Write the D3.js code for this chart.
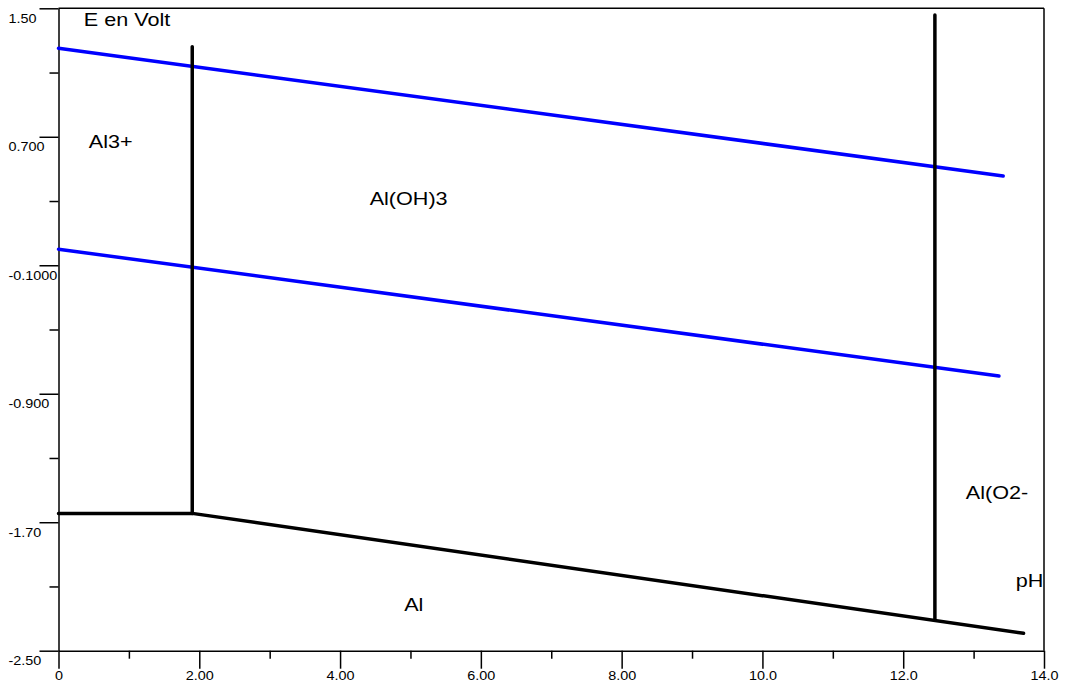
<!DOCTYPE html>
<html>
<head>
<meta charset="utf-8">
<script src="https://cdn.jsdelivr.net/npm/d3@7"></script>
<style>
  body { margin: 0; background: #fff; }
  text { font-family: "Liberation Sans", Arial, sans-serif; }
</style>
</head>
<body>
<div id="chart"></div>
<script>
// axis ticks
var xTicks = [0, 2, 4, 6, 8, 10, 12, 14];
var xTickLabels = ["0", "2.00", "4.00", "6.00", "8.00", "10.0", "12.0", "14.0"];
var xMinor = [1, 3, 5, 7, 9, 11, 13];
var yTicks = [1.5, 0.7, -0.1, -0.9, -1.7, -2.5];
var yTickLabels = ["1.50", "0.700", "-0.1000", "-0.900", "-1.70", "-2.50"];
var yMinor = [1.1, 0.3, -0.5, -1.3, -2.1];

// water stability lines (pH, E)
var waterUpper = [[0, 1.251], [13.42, 0.456]];
var waterLower = [[0, 0.0], [13.36, -0.79]];

// aluminium boundaries (pH, E)
var alBoundary = [[0, -1.645], [1.9, -1.645], [13.71, -2.392]];
var alVertical1 = [[1.9, -1.645], [1.9, 1.261]];
var alVertical2 = [[12.45, -2.303], [12.45, 1.458]];

// region labels
var labelText = ["E en Volt", "Al3+", "Al(OH)3", "Al(O2-", "pH", "Al"];
var labelPH   = [0.36, 0.43, 4.42, 12.89, 13.60, 4.91];
var labelE    = [1.39, 0.630, 0.275, -1.555, -2.103, -2.253];

function main() {
  var width = 1065, height = 688;
  var stretch = 1.2; // text in the original is drawn a bit wide
  var svg = d3.select("#chart").append("svg")
      .attr("width", width)
      .attr("height", height);

  var x = d3.scaleLinear().domain([0, 14]).range([58.5, 1044]);
  var y = d3.scaleLinear().domain([1.5, -2.5]).range([8.3, 650.7]);

  // frame top + right
  svg.append("line")
      .attr("x1", x(0)).attr("x2", x(14))
      .attr("y1", y(1.5)).attr("y2", y(1.5))
      .attr("stroke", "#000").attr("stroke-width", 1.5);
  svg.append("line")
      .attr("x1", x(14)).attr("x2", x(14))
      .attr("y1", y(1.5)).attr("y2", y(-2.5))
      .attr("stroke", "#000").attr("stroke-width", 1.5);

  // x axis
  var xAxis = svg.append("g")
      .attr("transform", "translate(0," + y(-2.5) + ")");
  xAxis.append("g")
      .call(d3.axisBottom(x).tickValues(xMinor).tickSize(8).tickFormat(""))
      .call(g => g.select(".domain").remove());
  xAxis.append("g")
      .call(d3.axisBottom(x).tickValues(xTicks).tickSize(18).tickSizeOuter(0)
          .tickFormat((d, i) => xTickLabels[i]));
  xAxis.selectAll("path, line").attr("stroke", "#000").attr("stroke-width", 1.5);
  xAxis.selectAll("text")
      .attr("font-size", "12px")
      .attr("font-family", "Liberation Sans, Arial, sans-serif")
      .attr("fill", "#000")
      .attr("transform", "scale(" + stretch + ",1)");

  // y axis
  var yAxis = svg.append("g")
      .attr("transform", "translate(" + x(0) + ",0)");
  yAxis.append("g")
      .call(d3.axisLeft(y).tickValues(yMinor).tickSize(9).tickFormat(""))
      .call(g => g.select(".domain").remove());
  yAxis.append("g")
      .call(d3.axisLeft(y).tickValues(yTicks).tickSize(19).tickSizeOuter(0)
          .tickFormat((d, i) => yTickLabels[i]));
  yAxis.selectAll("path, line").attr("stroke", "#000").attr("stroke-width", 1.5);
  yAxis.selectAll("text")
      .attr("font-size", "12px")
      .attr("font-family", "Liberation Sans, Arial, sans-serif")
      .attr("fill", "#000")
      .attr("text-anchor", "start")
      .attr("x", 0)
      .attr("dy", "14")
      .attr("transform", "translate(" + (8.5 - x(0)) + ",0) scale(" + stretch + ",1)");

  var line = d3.line().x(d => x(d[0])).y(d => y(d[1]));

  // water lines
  [waterUpper, waterLower].forEach(function(d) {
    svg.append("path")
        .attr("d", line(d))
        .attr("fill", "none")
        .attr("stroke", "#0000ff")
        .attr("stroke-width", 3.5)
        .attr("stroke-linecap", "round");
  });

  // Al boundaries
  [alBoundary, alVertical1, alVertical2].forEach(function(d) {
    svg.append("path")
        .attr("d", line(d))
        .attr("fill", "none")
        .attr("stroke", "#000")
        .attr("stroke-width", 3.5)
        .attr("stroke-linecap", "round")
        .attr("stroke-linejoin", "round");
  });

  // labels
  svg.selectAll(".lbl")
      .data(labelText)
      .enter().append("text")
      .attr("class", "lbl")
      .attr("transform", (d, i) => "translate(" + x(labelPH[i]) + "," + y(labelE[i]) + ") scale(" + stretch + ",1)")
      .attr("font-size", "18px")
      .attr("fill", "#000")
      .text(d => d);
}

main();
</script>
</body>
</html>
